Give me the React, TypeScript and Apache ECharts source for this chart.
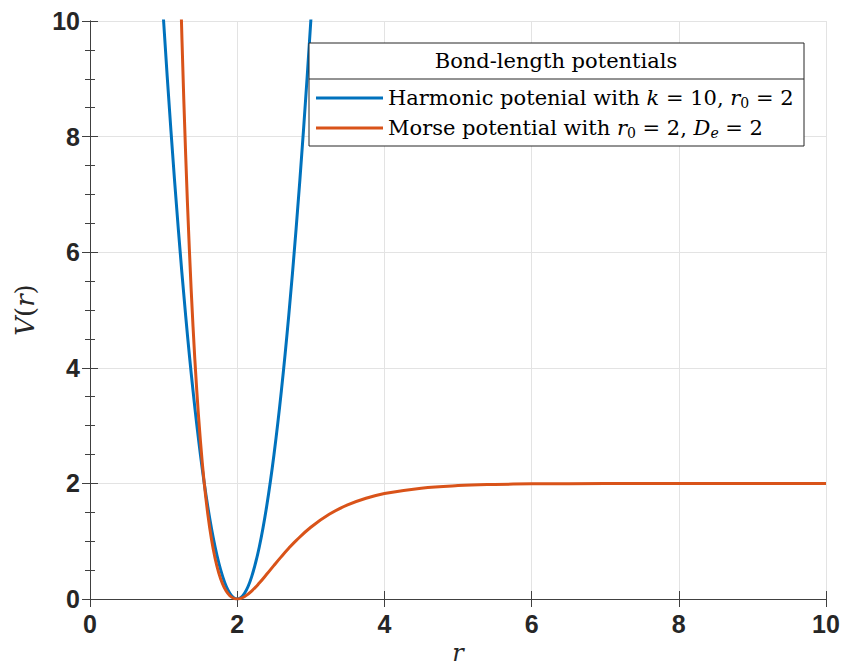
import React, { useEffect, useRef } from "react";
import * as echarts from "echarts";

// Harmonic potential samples (r, V)
const rHarmonic = [0.9, 1.0, 1.1, 1.2, 1.3, 1.4, 1.5, 1.6, 1.7, 1.8, 1.9, 2.0, 2.1, 2.2, 2.3, 2.4, 2.5, 2.6, 2.7, 2.8, 2.9, 3.0, 3.1];
const vHarmonic = [12.1, 10, 8.1, 6.4, 4.9, 3.6, 2.5, 1.6, 0.9, 0.4, 0.1, 0, 0.1, 0.4, 0.9, 1.6, 2.5, 3.6, 4.9, 6.4, 8.1, 10, 12.1];

// Morse potential samples (r, V)
const rMorse = [1.2, 1.25, 1.3, 1.35, 1.4, 1.45, 1.5, 1.55, 1.6, 1.65, 1.7, 1.75, 1.8, 1.85, 1.9, 1.95, 2, 2.05, 2.1, 2.2, 2.3, 2.4, 2.5, 2.6, 2.7, 2.8, 3, 3.25, 3.5, 3.75, 4, 4.5, 5, 5.5, 6, 7, 8, 9, 10];
const vMorse = [12.06, 9.66, 7.68, 6.05, 4.71, 3.62, 2.74, 2.03, 1.475, 1.037, 0.701, 0.448, 0.264, 0.137, 0.056, 0.013, 0, 0.011, 0.041, 0.142, 0.276, 0.427, 0.582, 0.733, 0.877, 1.01, 1.241, 1.465, 1.628, 1.743, 1.824, 1.918, 1.962, 1.982, 1.992, 1.998, 2.0, 2.0, 2.0];

const xTicks = [0, 2, 4, 6, 8, 10];
const yTicks = [0, 2, 4, 6, 8, 10];

const seriesNames = ["Harmonic", "Morse"];
const legendTitle = "Bond-length potentials";

const SERIF = "'DejaVu Serif', 'Liberation Serif', serif";
const SANS = "'Liberation Sans', Arial, Helvetica, sans-serif";
const TXT = "#262626";
const AX = "#404040";

const LFS = 21;
const richLegend = {
  n: { fontFamily: SERIF, fontSize: LFS, color: "#000", lineHeight: 30 },
  i: { fontFamily: SERIF, fontSize: LFS, fontStyle: "italic", color: "#000", lineHeight: 30 },
  s: { fontFamily: SERIF, fontSize: 14, color: "#000", lineHeight: 30, padding: [10, 0, 0, 0] },
  si: { fontFamily: SERIF, fontSize: 14, fontStyle: "italic", color: "#000", lineHeight: 30, padding: [10, 0, 0, 0] },
};

const legendLabels: Record<string, string> = {
  Harmonic: "{n|Harmonic potenial with }{i|k}{n| = 10, }{i|r}{s|0}{n| = 2}",
  Morse: "{n|Morse potential with }{i|r}{s|0}{n| = 2, }{i|D}{si|e}{n| = 2}",
};

export default function App() {
  const ref = useRef<HTMLDivElement>(null);
  useEffect(() => {
    if (!ref.current) return;
    const chart = echarts.init(ref.current, undefined, { renderer: "svg" });
    const harm = rHarmonic.map((r, i) => [r, vHarmonic[i]]);
    const morse = rMorse.map((r, i) => [r, vMorse[i]]);
    const tickInside = { show: true, inside: true, length: 8, lineStyle: { color: AX, width: 1 } };
    const minorInside = { show: true, splitNumber: 4, length: 5, lineStyle: { color: AX, width: 1 } };
    chart.setOption({
      animation: false,
      backgroundColor: "#fff",
      grid: { left: 90, width: 736, top: 21, height: 578, containLabel: false, outerBoundsMode: "none" },
      xAxis: [
        {
          type: "value", min: xTicks[0], max: xTicks[xTicks.length - 1], interval: 2,
          position: "bottom",
          axisLine: { show: true, lineStyle: { color: AX, width: 1 } },
          axisTick: tickInside,
          axisLabel: { color: TXT, fontFamily: SANS, fontWeight: "bold", fontSize: 25, margin: 12 },
          splitLine: { show: true, lineStyle: { color: "#e3e3e3", width: 1 } },
          name: "{i|r}",
          nameLocation: "middle",
          nameGap: 40,
          nameTextStyle: { lineHeight: 22, rich: { i: { fontFamily: SERIF, fontStyle: "italic", fontSize: 24, lineHeight: 22, color: TXT } } },
        },
        {
          type: "value", min: xTicks[0], max: xTicks[xTicks.length - 1], interval: 2,
          position: "top",
          axisLine: { show: true, lineStyle: { color: AX, width: 1 } },
          axisTick: tickInside,
          axisLabel: { show: false },
          splitLine: { show: false },
        },
      ],
      yAxis: [
        {
          type: "value", min: yTicks[0], max: yTicks[yTicks.length - 1], interval: 2,
          position: "left",
          axisLine: { show: true, lineStyle: { color: AX, width: 1 } },
          axisTick: tickInside,
          minorTick: minorInside,
          axisLabel: { color: TXT, fontFamily: SANS, fontWeight: "bold", fontSize: 25, margin: 10 },
          splitLine: { show: true, lineStyle: { color: "#e3e3e3", width: 1 } },
          name: "{i|V}{n|(}{i|r}{n|)}",
          nameLocation: "middle",
          nameGap: 52,
          nameRotate: 90,
          nameTextStyle: {
            rich: {
              i: { fontFamily: SERIF, fontStyle: "italic", fontSize: 26, color: TXT },
              n: { fontFamily: SERIF, fontSize: 26, color: TXT },
            },
          },
        },
        {
          type: "value", min: yTicks[0], max: yTicks[yTicks.length - 1], interval: 2,
          position: "right",
          axisLine: { show: true, lineStyle: { color: AX, width: 1 } },
          axisTick: tickInside,
          minorTick: minorInside,
          axisLabel: { show: false },
          splitLine: { show: false },
        },
      ],
      legend: {
        orient: "vertical",
        left: 316,
        top: 83,
        itemWidth: 67,
        itemHeight: 3,
        itemGap: 0,
        icon: "rect",
        selectedMode: false,
        z: 20,
        padding: 0,
        data: seriesNames,
        formatter: (name: string) => legendLabels[name],
        textStyle: { fontFamily: SERIF, fontSize: LFS, color: "#000", lineHeight: 30, rich: richLegend },
      },
      graphic: [
        {
          type: "rect", z: 10,
          shape: { x: 309, y: 43, width: 495, height: 103 },
          style: { fill: "#fff", stroke: TXT, lineWidth: 1 },
        },
        {
          type: "line", z: 11,
          shape: { x1: 309, y1: 79, x2: 804, y2: 79 },
          style: { stroke: TXT, lineWidth: 1 },
        },
        {
          type: "text", z: 11, x: 556, y: 61,
          style: { text: legendTitle, fontFamily: SERIF, fontSize: LFS, fill: "#000", align: "center", verticalAlign: "middle" },
        },
      ],
      series: [
        {
          name: seriesNames[0], type: "line", data: harm, smooth: 0.4,
          showSymbol: false, symbol: "none", clip: true,
          lineStyle: { color: "#0072BD", width: 3 }, itemStyle: { color: "#0072BD" },
        },
        {
          name: seriesNames[1], type: "line", data: morse, smooth: 0.4,
          showSymbol: false, symbol: "none", clip: true,
          lineStyle: { color: "#D95319", width: 3 }, itemStyle: { color: "#D95319" },
        },
      ],
    });
    return () => chart.dispose();
  }, []);
  return <div ref={ref} style={{ position: "fixed", left: 0, top: 0, width: 843, height: 668 }} />;
}
